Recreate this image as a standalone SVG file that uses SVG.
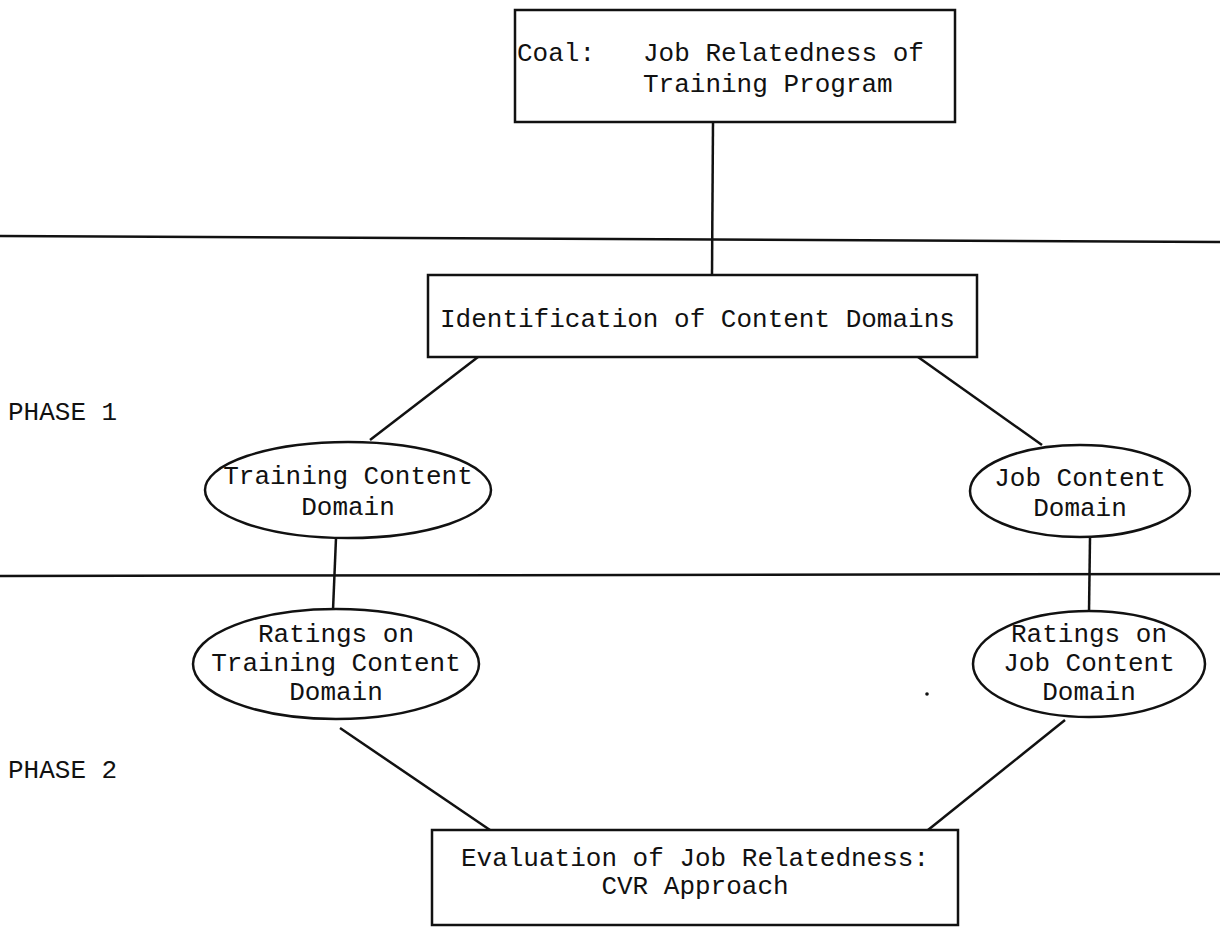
<svg xmlns="http://www.w3.org/2000/svg" width="1220" height="927" viewBox="0 0 1220 927">
<style>
.t{font-family:"Liberation Mono","DejaVu Sans Mono",monospace;font-size:26px;fill:#111}
.box{fill:#fff;stroke:#111;stroke-width:2.5}
.c{stroke:#111;stroke-width:2.5;fill:none}
.m{text-anchor:middle}
</style>
<rect width="1220" height="927" fill="#fff"/>
<g id="phase-lines">
<line class="c" x1="0" y1="236" x2="1220" y2="242"/>
<line class="c" x1="0" y1="576" x2="1220" y2="574"/>
</g>
<g id="connectors">
<line class="c" x1="713" y1="122" x2="712" y2="275"/>
<line class="c" x1="478" y1="357" x2="370" y2="440"/>
<line class="c" x1="918" y1="357" x2="1042" y2="445"/>
<line class="c" x1="336" y1="538" x2="333" y2="610"/>
<line class="c" x1="1090" y1="538" x2="1089" y2="612"/>
<line class="c" x1="340" y1="728" x2="490" y2="830"/>
<line class="c" x1="1065" y1="720" x2="928" y2="830"/>
</g>
<g id="goal">
<rect class="box" x="515" y="10" width="440" height="112"/>
<text class="t" x="517" y="61">Coal:</text>
<text class="t" x="643" y="61">Job Relatedness of</text>
<text class="t" x="643" y="92">Training Program</text>
</g>
<g id="identification">
<rect class="box" x="428" y="275" width="549" height="82"/>
<text class="t" x="440" y="327">Identification of Content Domains</text>
</g>
<g id="phase1"><text class="t" x="8" y="420">PHASE 1</text></g>
<g id="training-domain">
<ellipse class="box" cx="348" cy="490" rx="143" ry="48"/>
<text class="t m" x="348" y="484">Training Content</text>
<text class="t m" x="348" y="515">Domain</text>
</g>
<g id="job-domain">
<ellipse class="box" cx="1080" cy="491" rx="110" ry="46"/>
<text class="t m" x="1080" y="486">Job Content</text>
<text class="t m" x="1080" y="516">Domain</text>
</g>
<g id="ratings-training">
<ellipse class="box" cx="336" cy="664" rx="143" ry="55"/>
<text class="t m" x="336" y="642">Ratings on</text>
<text class="t m" x="336" y="671">Training Content</text>
<text class="t m" x="336" y="700">Domain</text>
</g>
<g id="ratings-job">
<ellipse class="box" cx="1089" cy="664" rx="116" ry="53"/>
<text class="t m" x="1089" y="642">Ratings on</text>
<text class="t m" x="1089" y="671">Job Content</text>
<text class="t m" x="1089" y="700">Domain</text>
</g>
<circle cx="927" cy="694" r="1.8" fill="#111"/>
<g id="phase2"><text class="t" x="8" y="778">PHASE 2</text></g>
<g id="evaluation">
<rect class="box" x="432" y="830" width="526" height="95"/>
<text class="t m" x="695" y="866">Evaluation of Job Relatedness:</text>
<text class="t m" x="695" y="894">CVR Approach</text>
</g>
</svg>
